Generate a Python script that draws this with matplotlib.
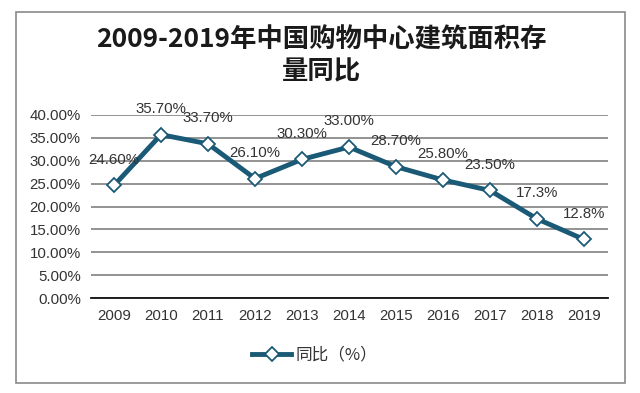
import matplotlib.pyplot as plt
from matplotlib.patches import Rectangle
from matplotlib.ticker import PercentFormatter

plt.rcParams['font.family'] = ['Liberation Sans', 'Noto Sans CJK SC', 'DejaVu Sans']

years = ['2009', '2010', '2011', '2012', '2013', '2014', '2015', '2016', '2017', '2018', '2019']
values = [24.6, 35.7, 33.7, 26.1, 30.3, 33.0, 28.7, 25.8, 23.5, 17.3, 12.8]
point_labels = ['24.60%', '35.70%', '33.70%', '26.10%', '30.30%', '33.00%',
                '28.70%', '25.80%', '23.50%', '17.3%', '12.8%']
y_ticks = [0, 5, 10, 15, 20, 25, 30, 35, 40]

line_color = '#1b5a77'
cjk = ['Noto Sans CJK SC', 'DejaVu Sans']

fig = plt.figure(figsize=(6.4, 3.93), dpi=100)
fig.patch.set_facecolor('white')

# outer frame
fig.patches.append(Rectangle((16 / 640, 1 - 383 / 393), 609 / 640, 371 / 393,
                             transform=fig.transFigure, fill=False,
                             edgecolor='#8a8a8a', linewidth=1.2))

fig.text(0.502, 1 - 40 / 393, '2009-2019年中国购物中心建筑面积存', family=cjk,
         fontsize=19, fontweight='bold', ha='center', va='center', color='#1a1a1a')
fig.text(0.502, 1 - 72 / 393, '量同比', family=cjk,
         fontsize=19, fontweight='bold', ha='center', va='center', color='#1a1a1a')

ax = fig.add_axes([90.5 / 640, 1 - 298 / 393, 517 / 640, 183 / 393])
x = range(len(years))
ax.plot(x, values, color=line_color, linewidth=3.5, marker='D', markersize=7.5,
        markerfacecolor='white', markeredgecolor=line_color, markeredgewidth=1.3,
        label='同比（%）', zorder=3)

for i, (v, lab) in enumerate(zip(values, point_labels)):
    ax.annotate(lab, (i, v), xytext=(0, 18.5), textcoords='offset points',
                ha='center', va='center', fontsize=10.8, color='#333333')

ax.set_xlim(-0.5, len(years) - 0.5)
ax.set_ylim(0, 40)
ax.set_yticks(y_ticks)
ax.yaxis.set_major_formatter(PercentFormatter(decimals=2))
ax.set_xticks(list(x))
ax.set_xticklabels(years)
ax.tick_params(axis='both', length=0, labelsize=10.8, labelcolor='#333333')
ax.tick_params(axis='x', pad=8)
ax.tick_params(axis='y', pad=7)
ax.grid(axis='y', color='#808080', linewidth=1.2)
ax.set_axisbelow(True)
for s in ['top', 'right', 'left']:
    ax.spines[s].set_visible(False)
ax.spines['bottom'].set_color('#111111')
ax.spines['bottom'].set_linewidth(1.3)
ax.set_facecolor('none')

leg = ax.legend(loc='center', bbox_to_anchor=(0.492, 1 - 355 / 393),
                bbox_transform=fig.transFigure, frameon=False,
                prop={'family': cjk, 'size': 12}, handlelength=2.3,
                handletextpad=0.3)
for t in leg.get_texts():
    t.set_color('#333333')

fig.savefig('out.png', dpi=100, facecolor='white')
